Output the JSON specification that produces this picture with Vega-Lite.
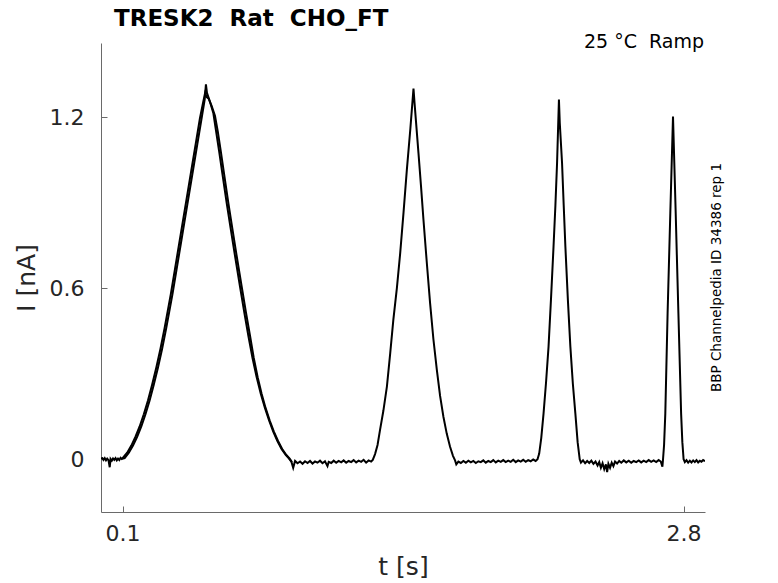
{
  "$schema": "https://vega.github.io/schema/vega-lite/v6.json",
  "width": 604,
  "height": 469,
  "autosize": {"type": "none"},
  "padding": {"left": 101, "top": 43, "right": 73, "bottom": 71},
  "background": "white",
  "data": {
    "values": [
      {"sweep": 1, "t": -0.004, "i": 0.002}, {"sweep": 1, "t": 0.003, "i": 0.004}, {"sweep": 1, "t": 0.008, "i": -0.002}, {"sweep": 1, "t": 0.014, "i": 0.004},
      {"sweep": 1, "t": 0.020, "i": -0.004}, {"sweep": 1, "t": 0.026, "i": 0.002}, {"sweep": 1, "t": 0.032, "i": -0.003}, {"sweep": 1, "t": 0.038, "i": -0.028},
      {"sweep": 1, "t": 0.042, "i": 0.001}, {"sweep": 1, "t": 0.048, "i": -0.005}, {"sweep": 1, "t": 0.054, "i": 0.003}, {"sweep": 1, "t": 0.060, "i": -0.002},
      {"sweep": 1, "t": 0.066, "i": 0.004}, {"sweep": 1, "t": 0.072, "i": -0.004}, {"sweep": 1, "t": 0.078, "i": 0.002}, {"sweep": 1, "t": 0.084, "i": -0.003},
      {"sweep": 1, "t": 0.090, "i": 0.005}, {"sweep": 1, "t": 0.096, "i": 0.001}, {"sweep": 1, "t": 0.103, "i": 0.003},
      {"sweep": 1, "t": 0.110, "i": 0.004}, {"sweep": 1, "t": 0.130, "i": 0.023}, {"sweep": 1, "t": 0.150, "i": 0.048}, {"sweep": 1, "t": 0.170, "i": 0.079},
      {"sweep": 1, "t": 0.190, "i": 0.115}, {"sweep": 1, "t": 0.210, "i": 0.158}, {"sweep": 1, "t": 0.230, "i": 0.206}, {"sweep": 1, "t": 0.250, "i": 0.261},
      {"sweep": 1, "t": 0.270, "i": 0.321}, {"sweep": 1, "t": 0.290, "i": 0.387}, {"sweep": 1, "t": 0.310, "i": 0.460}, {"sweep": 1, "t": 0.340, "i": 0.579},
      {"sweep": 1, "t": 0.360, "i": 0.667}, {"sweep": 1, "t": 0.380, "i": 0.755}, {"sweep": 1, "t": 0.400, "i": 0.843}, {"sweep": 1, "t": 0.420, "i": 0.931},
      {"sweep": 1, "t": 0.440, "i": 1.019}, {"sweep": 1, "t": 0.460, "i": 1.107}, {"sweep": 1, "t": 0.480, "i": 1.195}, {"sweep": 1, "t": 0.495, "i": 1.261},
      {"sweep": 1, "t": 0.501, "i": 1.315},
      {"sweep": 1, "t": 0.506, "i": 1.285}, {"sweep": 1, "t": 0.520, "i": 1.255}, {"sweep": 1, "t": 0.5365, "i": 1.215}, {"sweep": 1, "t": 0.550, "i": 1.150},
      {"sweep": 1, "t": 0.565, "i": 1.078}, {"sweep": 1, "t": 0.580, "i": 1.003}, {"sweep": 1, "t": 0.601, "i": 0.898}, {"sweep": 1, "t": 0.620, "i": 0.810},
      {"sweep": 1, "t": 0.640, "i": 0.718}, {"sweep": 1, "t": 0.665, "i": 0.606}, {"sweep": 1, "t": 0.685, "i": 0.518}, {"sweep": 1, "t": 0.705, "i": 0.434},
      {"sweep": 1, "t": 0.725, "i": 0.356}, {"sweep": 1, "t": 0.745, "i": 0.288}, {"sweep": 1, "t": 0.765, "i": 0.230}, {"sweep": 1, "t": 0.785, "i": 0.180},
      {"sweep": 1, "t": 0.805, "i": 0.136}, {"sweep": 1, "t": 0.825, "i": 0.097}, {"sweep": 1, "t": 0.845, "i": 0.064}, {"sweep": 1, "t": 0.865, "i": 0.036},
      {"sweep": 1, "t": 0.885, "i": 0.015}, {"sweep": 1, "t": 0.900, "i": 0.003}, {"sweep": 1, "t": 0.912, "i": -0.008},
      {"sweep": 1, "t": 0.921, "i": -0.030}, {"sweep": 1, "t": 0.930, "i": -0.006}, {"sweep": 1, "t": 0.942, "i": -0.014}, {"sweep": 1, "t": 0.954, "i": -0.008},
      {"sweep": 1, "t": 0.966, "i": -0.016}, {"sweep": 1, "t": 0.978, "i": -0.007}, {"sweep": 1, "t": 0.990, "i": -0.013}, {"sweep": 1, "t": 1.002, "i": -0.006},
      {"sweep": 1, "t": 1.014, "i": -0.015}, {"sweep": 1, "t": 1.026, "i": -0.008}, {"sweep": 1, "t": 1.038, "i": -0.012}, {"sweep": 1, "t": 1.050, "i": -0.005},
      {"sweep": 1, "t": 1.062, "i": -0.014}, {"sweep": 1, "t": 1.074, "i": -0.007}, {"sweep": 1, "t": 1.086, "i": -0.024}, {"sweep": 1, "t": 1.092, "i": -0.009},
      {"sweep": 1, "t": 1.104, "i": -0.013}, {"sweep": 1, "t": 1.116, "i": -0.005}, {"sweep": 1, "t": 1.128, "i": -0.012}, {"sweep": 1, "t": 1.140, "i": -0.006},
      {"sweep": 1, "t": 1.152, "i": -0.011}, {"sweep": 1, "t": 1.164, "i": -0.004}, {"sweep": 1, "t": 1.176, "i": -0.012}, {"sweep": 1, "t": 1.188, "i": -0.006},
      {"sweep": 1, "t": 1.200, "i": -0.010}, {"sweep": 1, "t": 1.212, "i": -0.003}, {"sweep": 1, "t": 1.224, "i": -0.011}, {"sweep": 1, "t": 1.236, "i": -0.005},
      {"sweep": 1, "t": 1.248, "i": -0.009}, {"sweep": 1, "t": 1.260, "i": -0.002}, {"sweep": 1, "t": 1.272, "i": -0.012}, {"sweep": 1, "t": 1.284, "i": -0.004},
      {"sweep": 1, "t": 1.296, "i": -0.008}, {"sweep": 1, "t": 1.304, "i": -0.002},
      {"sweep": 1, "t": 1.315, "i": 0.018}, {"sweep": 1, "t": 1.327, "i": 0.050}, {"sweep": 1, "t": 1.339, "i": 0.103}, {"sweep": 1, "t": 1.355, "i": 0.170},
      {"sweep": 1, "t": 1.372, "i": 0.255}, {"sweep": 1, "t": 1.388, "i": 0.372}, {"sweep": 1, "t": 1.403, "i": 0.489}, {"sweep": 1, "t": 1.420, "i": 0.600},
      {"sweep": 1, "t": 1.436, "i": 0.723}, {"sweep": 1, "t": 1.452, "i": 0.865}, {"sweep": 1, "t": 1.468, "i": 1.015}, {"sweep": 1, "t": 1.485, "i": 1.160},
      {"sweep": 1, "t": 1.500, "i": 1.300},
      {"sweep": 1, "t": 1.505, "i": 1.250}, {"sweep": 1, "t": 1.524, "i": 1.074}, {"sweep": 1, "t": 1.536, "i": 0.960}, {"sweep": 1, "t": 1.548, "i": 0.840},
      {"sweep": 1, "t": 1.564, "i": 0.690}, {"sweep": 1, "t": 1.580, "i": 0.547}, {"sweep": 1, "t": 1.596, "i": 0.420}, {"sweep": 1, "t": 1.6125, "i": 0.313},
      {"sweep": 1, "t": 1.628, "i": 0.222}, {"sweep": 1, "t": 1.644, "i": 0.149}, {"sweep": 1, "t": 1.660, "i": 0.090}, {"sweep": 1, "t": 1.676, "i": 0.044},
      {"sweep": 1, "t": 1.690, "i": 0.012}, {"sweep": 1, "t": 1.700, "i": -0.004},
      {"sweep": 1, "t": 1.706, "i": -0.018}, {"sweep": 1, "t": 1.716, "i": -0.008}, {"sweep": 1, "t": 1.728, "i": -0.013}, {"sweep": 1, "t": 1.740, "i": -0.006},
      {"sweep": 1, "t": 1.752, "i": -0.012}, {"sweep": 1, "t": 1.764, "i": -0.005}, {"sweep": 1, "t": 1.776, "i": -0.011}, {"sweep": 1, "t": 1.788, "i": -0.006},
      {"sweep": 1, "t": 1.800, "i": -0.013}, {"sweep": 1, "t": 1.812, "i": -0.007}, {"sweep": 1, "t": 1.824, "i": -0.010}, {"sweep": 1, "t": 1.836, "i": -0.004},
      {"sweep": 1, "t": 1.848, "i": -0.012}, {"sweep": 1, "t": 1.860, "i": -0.006}, {"sweep": 1, "t": 1.872, "i": -0.010}, {"sweep": 1, "t": 1.884, "i": -0.003},
      {"sweep": 1, "t": 1.896, "i": -0.011}, {"sweep": 1, "t": 1.908, "i": -0.005}, {"sweep": 1, "t": 1.920, "i": -0.009}, {"sweep": 1, "t": 1.932, "i": -0.003},
      {"sweep": 1, "t": 1.944, "i": -0.010}, {"sweep": 1, "t": 1.956, "i": -0.005}, {"sweep": 1, "t": 1.968, "i": -0.009}, {"sweep": 1, "t": 1.980, "i": -0.002},
      {"sweep": 1, "t": 1.992, "i": -0.010}, {"sweep": 1, "t": 2.004, "i": -0.004}, {"sweep": 1, "t": 2.016, "i": -0.008}, {"sweep": 1, "t": 2.028, "i": -0.002},
      {"sweep": 1, "t": 2.040, "i": -0.009}, {"sweep": 1, "t": 2.052, "i": -0.003}, {"sweep": 1, "t": 2.064, "i": -0.007}, {"sweep": 1, "t": 2.076, "i": -0.001},
      {"sweep": 1, "t": 2.088, "i": -0.006}, {"sweep": 1, "t": 2.097, "i": 0.000},
      {"sweep": 1, "t": 2.105, "i": 0.020}, {"sweep": 1, "t": 2.115, "i": 0.075}, {"sweep": 1, "t": 2.126, "i": 0.161}, {"sweep": 1, "t": 2.138, "i": 0.270},
      {"sweep": 1, "t": 2.150, "i": 0.395}, {"sweep": 1, "t": 2.162, "i": 0.565}, {"sweep": 1, "t": 2.174, "i": 0.746}, {"sweep": 1, "t": 2.183, "i": 0.890},
      {"sweep": 1, "t": 2.191, "i": 1.039}, {"sweep": 1, "t": 2.200, "i": 1.262},
      {"sweep": 1, "t": 2.204, "i": 1.180}, {"sweep": 1, "t": 2.215, "i": 1.039}, {"sweep": 1, "t": 2.223, "i": 0.890}, {"sweep": 1, "t": 2.231, "i": 0.746},
      {"sweep": 1, "t": 2.243, "i": 0.560}, {"sweep": 1, "t": 2.255, "i": 0.395}, {"sweep": 1, "t": 2.267, "i": 0.265}, {"sweep": 1, "t": 2.279, "i": 0.161},
      {"sweep": 1, "t": 2.290, "i": 0.060}, {"sweep": 1, "t": 2.300, "i": 0.000},
      {"sweep": 1, "t": 2.306, "i": -0.012}, {"sweep": 1, "t": 2.316, "i": -0.004}, {"sweep": 1, "t": 2.326, "i": -0.014}, {"sweep": 1, "t": 2.336, "i": -0.006},
      {"sweep": 1, "t": 2.346, "i": -0.013}, {"sweep": 1, "t": 2.356, "i": -0.005}, {"sweep": 1, "t": 2.366, "i": -0.016}, {"sweep": 1, "t": 2.376, "i": -0.008},
      {"sweep": 1, "t": 2.386, "i": -0.022}, {"sweep": 1, "t": 2.394, "i": -0.010}, {"sweep": 1, "t": 2.402, "i": -0.030}, {"sweep": 1, "t": 2.410, "i": -0.014},
      {"sweep": 1, "t": 2.418, "i": -0.035}, {"sweep": 1, "t": 2.426, "i": -0.018}, {"sweep": 1, "t": 2.432, "i": -0.045}, {"sweep": 1, "t": 2.438, "i": -0.016},
      {"sweep": 1, "t": 2.446, "i": -0.030}, {"sweep": 1, "t": 2.454, "i": -0.012}, {"sweep": 1, "t": 2.462, "i": -0.024}, {"sweep": 1, "t": 2.470, "i": -0.008},
      {"sweep": 1, "t": 2.480, "i": -0.015}, {"sweep": 1, "t": 2.490, "i": -0.006}, {"sweep": 1, "t": 2.500, "i": -0.012}, {"sweep": 1, "t": 2.512, "i": -0.004},
      {"sweep": 1, "t": 2.524, "i": -0.011}, {"sweep": 1, "t": 2.536, "i": -0.005}, {"sweep": 1, "t": 2.548, "i": -0.012}, {"sweep": 1, "t": 2.560, "i": -0.006},
      {"sweep": 1, "t": 2.572, "i": -0.010}, {"sweep": 1, "t": 2.584, "i": -0.004}, {"sweep": 1, "t": 2.596, "i": -0.011}, {"sweep": 1, "t": 2.608, "i": -0.005},
      {"sweep": 1, "t": 2.620, "i": -0.010}, {"sweep": 1, "t": 2.632, "i": -0.003}, {"sweep": 1, "t": 2.644, "i": -0.009}, {"sweep": 1, "t": 2.656, "i": -0.004},
      {"sweep": 1, "t": 2.668, "i": -0.010}, {"sweep": 1, "t": 2.680, "i": -0.003}, {"sweep": 1, "t": 2.690, "i": -0.008}, {"sweep": 1, "t": 2.698, "i": -0.026},
      {"sweep": 1, "t": 2.701, "i": 0.000},
      {"sweep": 1, "t": 2.706, "i": 0.050}, {"sweep": 1, "t": 2.712, "i": 0.161}, {"sweep": 1, "t": 2.723, "i": 0.512}, {"sweep": 1, "t": 2.736, "i": 0.863},
      {"sweep": 1, "t": 2.749, "i": 1.202},
      {"sweep": 1, "t": 2.762, "i": 0.863}, {"sweep": 1, "t": 2.775, "i": 0.512}, {"sweep": 1, "t": 2.788, "i": 0.161}, {"sweep": 1, "t": 2.794, "i": 0.060},
      {"sweep": 1, "t": 2.800, "i": 0.000},
      {"sweep": 1, "t": 2.806, "i": -0.010}, {"sweep": 1, "t": 2.814, "i": -0.003}, {"sweep": 1, "t": 2.822, "i": -0.012}, {"sweep": 1, "t": 2.830, "i": -0.005},
      {"sweep": 1, "t": 2.838, "i": -0.011}, {"sweep": 1, "t": 2.846, "i": -0.004}, {"sweep": 1, "t": 2.854, "i": -0.010}, {"sweep": 1, "t": 2.862, "i": -0.003},
      {"sweep": 1, "t": 2.870, "i": -0.011}, {"sweep": 1, "t": 2.878, "i": -0.005}, {"sweep": 1, "t": 2.886, "i": -0.009}, {"sweep": 1, "t": 2.894, "i": -0.003},
      {"sweep": 1, "t": 2.903, "i": -0.007},
      {"sweep": 2, "t": 0.098, "i": 0.002}, {"sweep": 2, "t": 0.122, "i": 0.023}, {"sweep": 2, "t": 0.142, "i": 0.048}, {"sweep": 2, "t": 0.162, "i": 0.079},
      {"sweep": 2, "t": 0.182, "i": 0.115}, {"sweep": 2, "t": 0.202, "i": 0.158}, {"sweep": 2, "t": 0.222, "i": 0.206}, {"sweep": 2, "t": 0.242, "i": 0.261},
      {"sweep": 2, "t": 0.262, "i": 0.321}, {"sweep": 2, "t": 0.282, "i": 0.387}, {"sweep": 2, "t": 0.302, "i": 0.460}, {"sweep": 2, "t": 0.332, "i": 0.579},
      {"sweep": 2, "t": 0.352, "i": 0.667}, {"sweep": 2, "t": 0.372, "i": 0.755}, {"sweep": 2, "t": 0.392, "i": 0.843}, {"sweep": 2, "t": 0.412, "i": 0.931},
      {"sweep": 2, "t": 0.432, "i": 1.019}, {"sweep": 2, "t": 0.452, "i": 1.107}, {"sweep": 2, "t": 0.472, "i": 1.195}, {"sweep": 2, "t": 0.487, "i": 1.250},
      {"sweep": 2, "t": 0.497, "i": 1.285}, {"sweep": 2, "t": 0.505, "i": 1.270},
      {"sweep": 2, "t": 0.514, "i": 1.265}, {"sweep": 2, "t": 0.528, "i": 1.240}, {"sweep": 2, "t": 0.5445, "i": 1.205}, {"sweep": 2, "t": 0.558, "i": 1.150},
      {"sweep": 2, "t": 0.573, "i": 1.078}, {"sweep": 2, "t": 0.588, "i": 1.003}, {"sweep": 2, "t": 0.609, "i": 0.898}, {"sweep": 2, "t": 0.628, "i": 0.810},
      {"sweep": 2, "t": 0.648, "i": 0.718}, {"sweep": 2, "t": 0.673, "i": 0.606}, {"sweep": 2, "t": 0.693, "i": 0.518}, {"sweep": 2, "t": 0.713, "i": 0.434},
      {"sweep": 2, "t": 0.731, "i": 0.356}, {"sweep": 2, "t": 0.750, "i": 0.288}, {"sweep": 2, "t": 0.769, "i": 0.230}, {"sweep": 2, "t": 0.788, "i": 0.180},
      {"sweep": 2, "t": 0.808, "i": 0.136}, {"sweep": 2, "t": 0.828, "i": 0.097}, {"sweep": 2, "t": 0.848, "i": 0.064}, {"sweep": 2, "t": 0.868, "i": 0.036},
      {"sweep": 2, "t": 0.888, "i": 0.015}, {"sweep": 2, "t": 0.903, "i": 0.003}, {"sweep": 2, "t": 0.915, "i": -0.010}
    ]
  },
  "layer": [
    {
      "mark": {"type": "line", "color": "#000000", "strokeWidth": 2, "clip": true},
      "encoding": {
        "x": {
          "field": "t",
          "type": "quantitative",
          "scale": {"domain": [-0.004, 2.903], "nice": false, "zero": false},
          "axis": {
            "title": "t [s]",
            "values": [0.1, 2.8],
            "format": ".1f",
            "grid": false,
            "tickSize": -6,
            "labelPadding": 17.6,
            "titlePadding": 10
          }
        },
        "y": {
          "field": "i",
          "type": "quantitative",
          "scale": {"domain": [-0.185, 1.46], "nice": false, "zero": false},
          "axis": {
            "title": "I [nA]",
            "values": [0, 0.6, 1.2],
            "labelExpr": "datum.value == 0 ? '0\u00a0\u00a0' : format(datum.value, '.1f')",
            "grid": false,
            "tickSize": -6,
            "labelPadding": 23,
            "titlePadding": 10
          }
        },
        "detail": {"field": "sweep", "type": "nominal"},
        "order": {"field": "t", "type": "quantitative"}
      }
    },
    {
      "data": {"values": [{"label": "TRESK2\u00a0 Rat\u00a0 CHO_FT", "t": -0.004, "i": 1.46}]},
      "mark": {"type": "text", "align": "left", "baseline": "alphabetic", "dx": 13, "dy": -17, "fontSize": 23, "fontWeight": "bold", "color": "#000000"},
      "encoding": {
        "x": {"field": "t", "type": "quantitative"},
        "y": {"field": "i", "type": "quantitative"},
        "text": {"field": "label"}
      }
    },
    {
      "data": {"values": [{"label": "25 °C\u00a0 Ramp", "t": 2.903, "i": 1.46}]},
      "mark": {"type": "text", "align": "right", "baseline": "alphabetic", "dx": -1, "dy": 4.7, "fontSize": 19, "color": "#000000"},
      "encoding": {
        "x": {"field": "t", "type": "quantitative"},
        "y": {"field": "i", "type": "quantitative"},
        "text": {"field": "label"}
      }
    },
    {
      "data": {"values": [{"label": "BBP Channelpedia ID 34386 rep 1", "t": 2.903, "i": 0.6375}]},
      "mark": {"type": "text", "align": "center", "baseline": "middle", "angle": 270, "dy": 12, "fontSize": 13.5, "color": "#000000"},
      "encoding": {
        "x": {"field": "t", "type": "quantitative"},
        "y": {"field": "i", "type": "quantitative"},
        "text": {"field": "label"}
      }
    }
  ],
  "config": {
    "font": "DejaVu Sans",
    "view": {"stroke": null},
    "axis": {
      "domainColor": "#6a6a6a",
      "domainWidth": 1,
      "tickColor": "#6a6a6a",
      "tickWidth": 1,
      "labelColor": "#262626",
      "labelFontSize": 22,
      "labelFont": "DejaVu Sans",
      "titleColor": "#262626",
      "titleFontSize": 25,
      "titleFontWeight": "normal",
      "titleFont": "DejaVu Sans"
    }
  }
}
